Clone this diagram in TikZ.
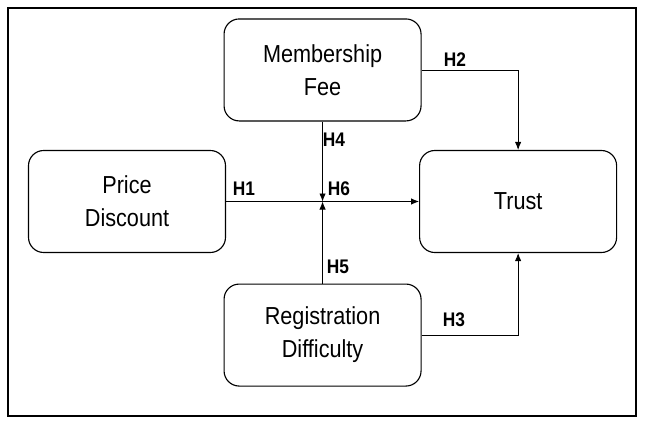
\documentclass[tikz,border=0pt]{standalone}
\usepackage{fontspec}
\setmainfont{Liberation Sans}[FakeStretch=0.88]
\usepackage{tikz}
\usetikzlibrary{arrows.meta,positioning,calc}

\begin{document}
\begin{tikzpicture}[
  node distance=2cm,
  construct/.style={draw,line width=0.8pt,rounded corners=0.38cm,minimum width=4.925cm,minimum height=2.55cm,align=center,font=\fontsize{17.5}{23.5}\selectfont},
  hyp/.style={font=\fontsize{14}{16}\selectfont\bfseries,inner sep=0pt},
  arrow/.style={-{Latex[length=2mm,width=1.6mm]},line width=0.6pt}
]
\useasboundingbox (0,0) rectangle (16.125,-10.5);
\draw[line width=1.8pt] (0.2,-0.2) rectangle (15.9,-10.4);

\node[construct] (price) at (3.175,-5.0375) {Price\\Discount};
\node[construct,right=4.825cm of price] (trust) {Trust};
\coordinate (mid) at ($(price.east)!0.5!(trust.west)$);
\node[construct,above=of mid] (fee) {Membership\\Fee};
\node[construct,below=2.05cm of mid] (reg) {Registration\\Difficulty};

% paths
\draw[arrow] (price) -- (trust);
\draw[arrow] (fee) -- (mid);
\draw[arrow] (reg) -- (mid);
\draw[arrow] (fee.east) -| (trust.north);
\draw[arrow] (reg.east) -| (trust.south);

% hypotheses
\node[hyp] (h1) at (6.1,-4.725) {H1};
\node[hyp] (h2) at (11.375,-1.5) {H2};
\node[hyp] (h3) at (11.35,-8.0) {H3};
\node[hyp] (h4) at (8.35,-3.5) {H4};
\node[hyp] (h5) at (8.45,-6.675) {H5};
\node[hyp] (h6) at (8.475,-4.725) {H6};
\end{tikzpicture}
\end{document}
